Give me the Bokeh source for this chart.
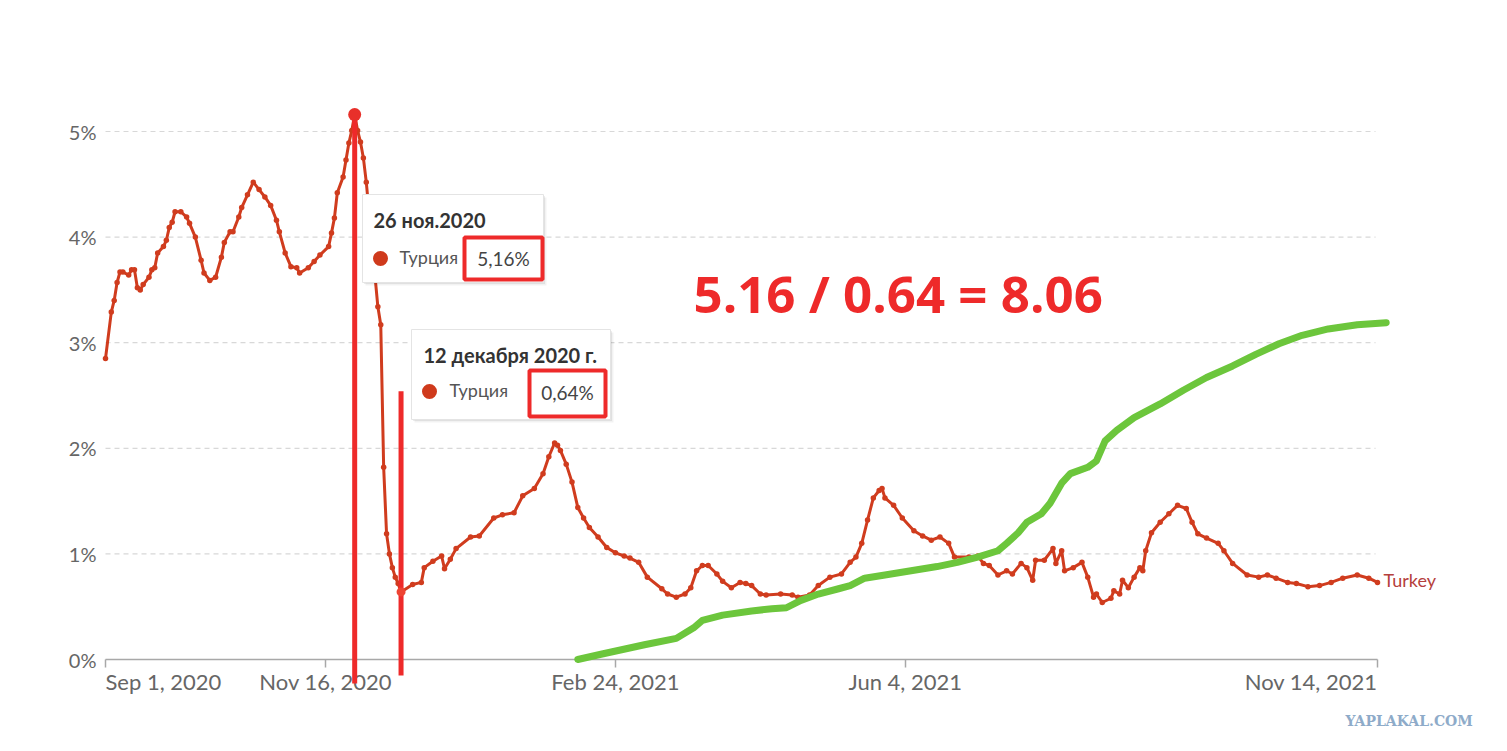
from bokeh.plotting import figure
from bokeh.models import Range1d, FixedTicker
from bokeh.core.properties import value
from bokeh.embed import file_html
from bokeh.resources import INLINE

# ---------------- data ----------------
# Turkey, case fatality rate (%), x = days since 2020-09-01
cfr_days = [0, 2, 3, 4, 5, 6, 8, 9, 10, 11, 12, 13, 15, 16, 17, 18, 20, 21, 22, 23,
            24, 26, 28, 29, 31, 33, 34, 36, 38, 40, 41, 43, 44, 46, 47, 49, 51, 53, 55, 57,
            59, 60, 62, 64, 66, 67, 70, 72, 74, 77, 78, 79, 80, 82, 83, 84, 85, 86, 87, 88,
            89, 90, 94, 95, 96, 97, 98, 99, 100, 101, 102, 106, 109, 110, 113, 116, 117, 119, 121, 126,
            129, 134, 137, 141, 144, 148, 151, 153, 155, 156, 157, 159, 161, 163, 165, 167, 170, 173, 176, 179,
            181, 184, 187, 192, 194, 197, 200, 202, 204, 206, 208, 211, 213, 216, 219, 221, 223, 226, 228, 233,
            237, 239, 243, 246, 250, 254, 257, 259, 261, 263, 265, 267, 268, 269, 272, 275, 279, 282, 285, 288,
            291, 293, 298, 301, 303, 305, 308, 311, 313, 316, 318, 320, 321, 324, 327, 328, 330, 331, 334, 337,
            339, 341, 342, 344, 347, 348, 350, 351, 353, 355, 357, 358, 359, 361, 364, 367, 370, 373, 375, 377,
            380, 384, 386, 389, 394, 398, 401, 404, 408, 411, 415, 419, 423, 427, 432, 436, 439]
cfr_values = [2.85, 3.29, 3.40, 3.57, 3.67, 3.67, 3.64, 3.69, 3.69, 3.52, 3.50, 3.55, 3.62, 3.69, 3.71, 3.85, 3.91, 3.97, 4.09, 4.14,
              4.24, 4.24, 4.19, 4.13, 4.00, 3.78, 3.66, 3.59, 3.62, 3.81, 3.95, 4.05, 4.05, 4.19, 4.28, 4.40, 4.52, 4.45, 4.38, 4.30,
              4.16, 4.05, 3.85, 3.72, 3.71, 3.66, 3.71, 3.77, 3.83, 3.91, 4.04, 4.18, 4.42, 4.57, 4.73, 4.89, 5.01, 5.16, 5.01, 4.90,
              4.75, 4.52, 3.34, 3.17, 1.82, 1.19, 1.00, 0.87, 0.78, 0.72, 0.64, 0.71, 0.73, 0.87, 0.93, 0.98, 0.86, 0.95, 1.05, 1.16,
              1.17, 1.34, 1.37, 1.39, 1.55, 1.62, 1.76, 1.92, 2.05, 2.03, 1.98, 1.85, 1.68, 1.44, 1.34, 1.25, 1.16, 1.06, 1.01, 0.98,
              0.96, 0.92, 0.78, 0.67, 0.62, 0.59, 0.62, 0.68, 0.84, 0.89, 0.89, 0.81, 0.74, 0.68, 0.73, 0.72, 0.70, 0.62, 0.61, 0.62,
              0.61, 0.59, 0.61, 0.70, 0.78, 0.81, 0.92, 0.97, 1.10, 1.32, 1.53, 1.60, 1.62, 1.53, 1.46, 1.34, 1.22, 1.17, 1.13, 1.16,
              1.10, 0.97, 0.97, 0.98, 0.91, 0.89, 0.80, 0.84, 0.81, 0.91, 0.87, 0.75, 0.94, 0.94, 1.05, 0.91, 1.03, 0.84, 0.87, 0.92,
              0.78, 0.59, 0.62, 0.54, 0.58, 0.65, 0.62, 0.75, 0.68, 0.78, 0.87, 0.84, 1.03, 1.20, 1.30, 1.38, 1.46, 1.43, 1.30, 1.19,
              1.15, 1.10, 1.03, 0.91, 0.80, 0.78, 0.80, 0.77, 0.73, 0.72, 0.69, 0.70, 0.73, 0.77, 0.80, 0.77, 0.73]

# hand-drawn green overlay curve, same axes
green_days = [163, 171, 186, 197, 203, 206, 213, 223, 230, 235, 240, 246, 253, 257, 262, 269, 278, 287,
              294, 301, 308, 311, 315, 318, 323, 326, 330, 333, 339, 342, 345, 349, 355, 364, 372, 380,
              389, 397, 405, 413, 422, 432, 442]
green_values = [0.00, 0.05, 0.14, 0.20, 0.30, 0.37, 0.42, 0.46, 0.48, 0.49, 0.56, 0.62, 0.67, 0.70, 0.77, 0.80, 0.84, 0.88,
                0.92, 0.97, 1.03, 1.10, 1.20, 1.30, 1.38, 1.48, 1.67, 1.76, 1.82, 1.88, 2.07, 2.17, 2.29, 2.42, 2.55, 2.67,
                2.78, 2.89, 2.99, 3.07, 3.13, 3.17, 3.19]

x_tick_days = [0, 76, 176, 276, 439]
x_tick_labels = ["Sep 1, 2020", "Nov 16, 2020", "Feb 24, 2021", "Jun 4, 2021", "Nov 14, 2021"]
y_ticks = [0, 1, 2, 3, 4, 5]
y_tick_labels = ["0%", "1%", "2%", "3%", "4%", "5%"]

marked_days = [86, 102]
marked_values = [5.16, 0.64]
marked_line_tops = [5.16, 2.54]
tooltip_dates = ["26 ноя.2020", "12 декабря 2020 г."]
tooltip_country = "Турция"
tooltip_values = ["5,16%", "0,64%"]
series_label = "Turkey"
ratio_text = "5.16 / 0.64 = 8.06"
watermark = "YAPLAKAL.COM"

# ---------------- layout (screenshot pixels) ----------------
PAGE = 0
FIG_W, FIG_H = 1500, 745
FR_L, FR_R, FR_T, FR_B = 100, 1490, 20, 740
X0_PX, PX_PER_DAY = 105.0, 2.8975
Y0_PX, PX_PER_PCT = 659.0, 105.6
BASELINE_FIX = 0.4   # em shift of rendered alphabetic baseline


def dx(px):
    return (px - X0_PX) / PX_PER_DAY


def dy(py):
    return (Y0_PX - py) / PX_PER_PCT


def ty(py, fs):
    # data y for a text baseline at screen py with font size fs
    return dy(py - BASELINE_FIX * fs)


RED_SERIES = "#d03c1e"
ANNOT_RED = "#ee2a2a"
GREEN = "#6cc63c"
AXIS_TEXT = "#666666"
FONT = value("Lato")

p = figure(width=FIG_W, height=FIG_H,
           x_range=Range1d(dx(FR_L), dx(FR_R)), y_range=Range1d(dy(FR_B), dy(FR_T)),
           output_backend="svg", toolbar_location=None,
           min_border_left=FR_L - PAGE, min_border_right=PAGE + FIG_W - FR_R,
           min_border_top=FR_T - PAGE, min_border_bottom=PAGE + FIG_H - FR_B)
p.outline_line_color = None
p.grid.visible = False
p.background_fill_color = "white"
p.border_fill_color = "white"

# y axis: labels only
p.yaxis.ticker = FixedTicker(ticks=y_ticks)
p.yaxis.major_label_overrides = {t: l for t, l in zip(y_ticks, y_tick_labels)}
p.yaxis.axis_line_color = None
p.yaxis.major_tick_line_color = None
p.yaxis.minor_tick_line_color = None
p.yaxis.major_tick_in = 0
p.yaxis.major_tick_out = 0
p.yaxis.major_label_standoff = 4
p.yaxis.major_label_text_font = "Lato"
p.yaxis.major_label_text_font_size = "20px"
p.yaxis.major_label_text_color = AXIS_TEXT

# x axis: ticks at zero line
p.xaxis.fixed_location = 0
p.xaxis.ticker = FixedTicker(ticks=x_tick_days)
p.xaxis.major_label_overrides = {t: "" for t in x_tick_days}
p.xaxis.axis_line_color = None
p.xaxis.major_tick_line_color = "#a8a8a8"
p.xaxis.major_tick_line_width = 1.5
p.xaxis.major_tick_in = 0
p.xaxis.major_tick_out = 8
p.xaxis.minor_tick_line_color = None

# gridlines and baseline
grid_vals = y_ticks[1:]
p.segment(x0=[x_tick_days[0]] * len(grid_vals), x1=[dx(1375)] * len(grid_vals),
          y0=grid_vals, y1=grid_vals, line_color="#d8d8d8", line_width=1.2, line_dash="5 4")
p.segment(x0=[x_tick_days[0]], x1=[x_tick_days[-1]], y0=[0], y1=[0],
          line_color="#a8a8a8", line_width=1.6)

# x tick labels
groups = {"left": [0], "center": [1, 2, 3], "right": [4]}
for align, idx in groups.items():
    p.text(x=[x_tick_days[i] for i in idx], y=[ty(690, 22)] * len(idx),
           text=[x_tick_labels[i] for i in idx], text_align=align, text_baseline="alphabetic",
           text_font=FONT, text_font_size="22px", text_color=AXIS_TEXT)

# data series
p.line(cfr_days, cfr_values, line_color=RED_SERIES, line_width=3, line_join="round")
p.scatter(cfr_days, cfr_values, size=5.5, fill_color=RED_SERIES, line_color=None)
p.text(x=[dx(1383)], y=[ty(587, 18)], text=[series_label], text_font=FONT, text_font_size="18px",
       text_color="#b5403c", text_baseline="alphabetic")

# green overlay
p.line(green_days, green_values, line_color=GREEN, line_width=7, line_cap="round", line_join="round")

# tooltips
boxes = [(362, 543, 194, 282), (411, 610, 329, 419)]
for (l, r, t, b) in boxes:
    for off, a in [(3, 0.05), (1.5, 0.07)]:
        p.quad(left=[dx(l + off)], right=[dx(r + off)], top=[dy(t + off)], bottom=[dy(b + off)],
               fill_color="black", fill_alpha=a, line_color=None)
    p.quad(left=[dx(l)], right=[dx(r)], top=[dy(t)], bottom=[dy(b)],
           fill_color="white", line_color="#e4e4e4", line_width=1)

title_pos = [(373, 227), (423, 362)]
dot_pos = [(380, 258), (429, 391)]
country_pos = [(399, 264), (449, 397)]
vbox = [(464, 542, 237, 279), (529, 605, 370, 416)]
val_pos = [(503, 266), (567, 400)]
for i in range(2):
    p.text(x=[dx(title_pos[i][0])], y=[ty(title_pos[i][1], 20)], text=[tooltip_dates[i]],
           text_font=FONT, text_font_style="bold", text_font_size="20px", text_color="#333333",
           text_baseline="alphabetic")
    p.scatter(x=[dx(dot_pos[i][0])], y=[dy(dot_pos[i][1])], size=15, fill_color="#cf3a1c", line_color=None)
    p.text(x=[dx(country_pos[i][0])], y=[ty(country_pos[i][1], 18)], text=[tooltip_country],
           text_font=FONT, text_font_size="18px", text_color="#555555", text_baseline="alphabetic")
    l, r, t, b = vbox[i]
    p.quad(left=[dx(l)], right=[dx(r)], top=[dy(t)], bottom=[dy(b)],
           fill_color=None, line_color=ANNOT_RED, line_width=4)
    p.text(x=[dx(val_pos[i][0])], y=[ty(val_pos[i][1], 19)], text=[tooltip_values[i]],
           text_font=FONT, text_font_size="19px", text_color="#444444",
           text_align="center", text_baseline="alphabetic")

# red vertical marker lines
line_bottoms = [dy(683), dy(675)]
p.segment(x0=marked_days, x1=marked_days, y0=line_bottoms, y1=marked_line_tops,
          line_color=ANNOT_RED, line_width=5)
p.scatter(x=marked_days[:1], y=marked_values[:1], size=13, fill_color="#e8302a", line_color=None)
p.scatter(x=marked_days[1:], y=marked_values[1:], size=9, fill_color="#ee4433", line_color=None)

# big annotation text
p.text(x=[dx(693)], y=[ty(313, 51)], text=[ratio_text], text_font=value("Open Sans"),
       text_font_style="bold", text_font_size="51px", text_color=ANNOT_RED, text_baseline="alphabetic")

# watermark
p.text(x=[dx(1345)], y=[ty(726, 14)], text=[watermark], text_font=value("DejaVu Serif"),
       text_font_style="bold", text_font_size="14px", text_color="#8eabc9", text_baseline="alphabetic")

open("out.html", "w").write(file_html(p, INLINE))
